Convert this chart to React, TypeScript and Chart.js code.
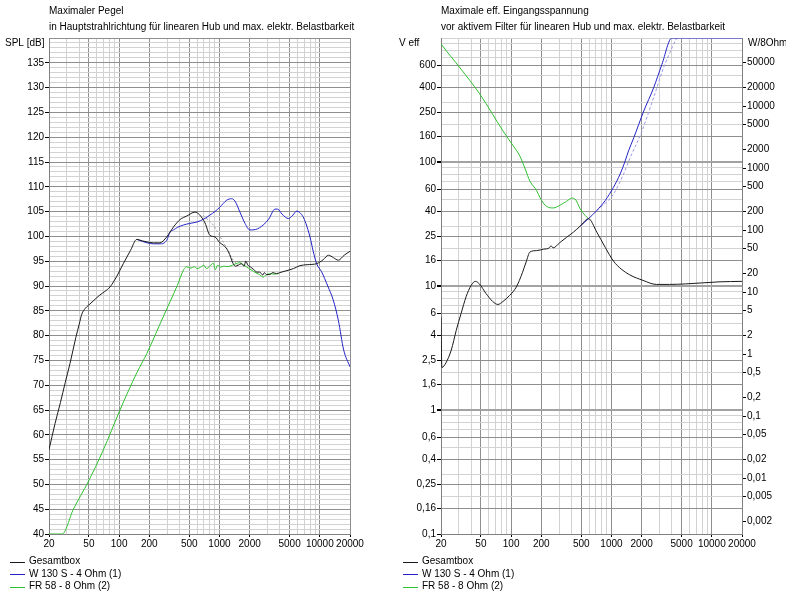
import React, { useEffect, useRef } from 'react';
import { Chart, registerables } from 'chart.js';

Chart.register(...registerables);

// ---------------- Left panel: Maximaler Pegel (SPL dB) ----------------
const splTotalFreq = [20, 23, 26, 29, 32.4, 37, 40, 42.4, 46, 49.4, 56, 64.4, 72, 81, 95, 110, 130, 150, 170, 189, 220, 255, 298, 348, 405, 471, 571, 630, 718, 804, 903, 1000, 1100, 1230, 1370, 1450, 1540, 1650, 1760, 1830, 1920, 2050, 2200, 2360, 2520, 2700, 2800, 2950, 3170, 3400, 3700, 4000, 4500, 5450, 6340, 7500, 9300, 10800, 12200, 13700, 15300, 17500, 20000];
const splTotalDb = [57, 62.3, 66.5, 70.5, 74.4, 79.6, 82.3, 84.3, 85.5, 86.1, 87.1, 88.2, 88.9, 89.8, 92, 94.5, 97.2, 99.4, 99.1, 98.9, 98.7, 98.7, 99.9, 101.9, 103.4, 104.1, 104.9, 104.4, 102.7, 100.2, 99.9, 98.8, 98.2, 96.9, 94.5, 94.0, 94.2, 94.5, 94.0, 95.0, 94.2, 93.8, 93.3, 92.8, 92.8, 92.2, 92.7, 92.3, 92.3, 92.7, 92.5, 92.7, 93.0, 93.5, 94.1, 94.3, 94.5, 95.3, 96.2, 95.7, 95.2, 96.2, 97.0];

const splWooferFreq = [150, 170, 190, 220, 255, 298, 322, 348, 380, 438, 500, 596, 700, 804, 900, 1010, 1180, 1320, 1430, 1600, 1800, 2010, 2300, 2730, 3100, 3580, 3800, 4200, 4870, 5400, 5880, 6300, 6800, 7270, 7980, 8600, 9300, 10400, 12000, 13600, 15300, 17300, 20000];
const splWooferDb = [99.4, 99.0, 98.7, 98.5, 98.5, 99.2, 100.9, 101.3, 101.8, 102.3, 102.6, 102.9, 103.5, 104.3, 105.0, 105.9, 107.3, 107.6, 107.1, 104.9, 102.6, 101.3, 101.4, 102.3, 103.5, 105.5, 105.5, 104.5, 103.6, 104.3, 105.1, 104.8, 104.0, 102.6, 99.9, 97.0, 94.5, 92.9, 90.0, 87.2, 83.1, 77.1, 73.7];

const splFullrangeFreq = [20, 27, 35, 49.4, 69.4, 102, 150, 189, 250, 321, 380, 440, 470, 520, 560, 600, 650, 700, 740, 800, 870, 910, 960, 1020, 1100, 1200, 1350, 1500, 1600, 1750, 1950, 2200, 2500, 2730, 2900, 3200, 3500, 3900];
const splFullrangeDb = [40, 40, 45, 50.6, 56.9, 65, 72.5, 76.4, 81.9, 86.8, 90.1, 93.3, 93.9, 93.6, 93.9, 93.5, 93.8, 94.2, 93.5, 94.0, 94.6, 93.3, 94.2, 93.8, 94.0, 93.9, 94.2, 94.6, 94.7, 94.2, 93.6, 92.9, 92.3, 91.8, 92.2, 92.5, 92.4, 92.5];

const splRefFreq = [690, 866, 1000, 1180, 1330, 1530];
const splRefDb = [104.2, 102.3, 100.2, 97.6, 95.6, 94.2];

// ---------------- Right panel: Maximale eff. Eingangsspannung (V) ----------------
const voltTotalFreq = [20, 20.4, 22.4, 25.3, 28.4, 31.7, 35.6, 39.9, 44, 48.2, 56.2, 65.5, 73.8, 82.9, 96.7, 112.5, 130, 141, 154, 180, 210, 240, 250, 262, 306, 357, 418, 488, 590, 714, 866, 1046, 1250, 1520, 2060, 2800, 3800, 5500, 8100, 11800, 20000];
const voltTotalV = [5.6, 2.2, 2.4, 3.04, 4.4, 6.0, 8.2, 10.1, 10.9, 10.4, 8.7, 7.5, 7.1, 7.5, 8.4, 9.8, 12.9, 15.6, 18.8, 19.3, 19.8, 20.3, 21.1, 20.3, 22.4, 24.7, 27.2, 30.4, 34.9, 27.2, 20.5, 15.9, 13.7, 12.3, 11.1, 10.3, 10.3, 10.4, 10.6, 10.8, 10.9];

const voltWooferFreq = [488, 590, 714, 866, 1046, 1220, 1370, 1480, 1670, 2100, 2630, 3180, 4000, 20000];
const voltWooferV = [30.4, 34.9, 40.6, 48.9, 62.4, 80, 102, 123, 157, 258, 396, 611, 1000, 1000];

const voltFullrangeFreq = [20, 20.3, 31, 49, 83, 105, 122, 138, 154, 180, 194, 227, 264, 306, 357, 403, 434, 488, 546, 590];
const voltFullrangeV = [900, 884, 573, 351, 178, 135, 112, 88, 70, 58.7, 51.5, 43.7, 42.6, 44.8, 48.2, 51.2, 50.3, 41.9, 37.1, 34.9];

const voltRefFreq = [714, 866, 1046, 1320, 1540, 1960, 2630, 3300, 4150, 4490];
const voltRefV = [40.6, 46.5, 55, 80, 109, 168, 330, 573, 884, 1000];

// ---------------- Axes ----------------
const freqLabels = [20, 50, 100, 200, 500, 1000, 2000, 5000, 10000, 20000];
const voltLabels = [0.1, 0.16, 0.25, 0.4, 0.6, 1, 1.6, 2.5, 4, 6, 10, 16, 25, 40, 60, 100, 160, 250, 400, 600];
const wattLabels = [0.002, 0.005, 0.01, 0.02, 0.05, 0.1, 0.2, 0.5, 1, 2, 5, 10, 20, 50, 100, 200, 500, 1000, 2000, 5000, 10000, 20000, 50000];
const legendLabels = ['Gesamtbox', 'W 130 S - 4 Ohm (1)', 'FR 58 - 8 Ohm (2)'];
const titleLeft = ['Maximaler Pegel', 'in Hauptstrahlrichtung für linearen Hub und max. elektr. Belastbarkeit'];
const titleRight = ['Maximale eff. Eingangsspannung', 'vor aktivem Filter für linearen Hub und max. elektr. Belastbarkeit'];

const FONT = '"Liberation Sans", Arial, sans-serif';
const MAJOR = '#8e8e8e';
const DECADE = '#a2a2a2';
const MINOR = '#d2d2d2';
const C_TOTAL = '#1a1a1a';
const C_WOOFER = '#2323c8';
const C_FULL = '#2ec02e';

const r6 = (v: number) => Number(v.toPrecision(6));
const near = (list: number[], v: number) => list.some((a) => Math.abs(a - v) / a < 1e-6);
const de = (v: number) => String(r6(v)).replace('.', ',');
const zip = (xs: number[], ys: number[]) => xs.map((x, i) => ({ x, y: ys[i] }));

const freqGrid: number[] = [];
[10, 100, 1000, 10000].forEach((d) => {
  for (let m = 1; m <= 9; m++) {
    const v = m * d;
    if (v >= 20 && v <= 20000) freqGrid.push(v);
  }
});
const freqMajor = [20, 50, 100, 200, 500, 1000, 2000, 5000, 10000, 20000];

const splGrid: number[] = [];
for (let v = 40; v <= 140; v++) splGrid.push(v);

const voltGrid: number[] = [];
[0.1, 1, 10, 100].forEach((d) => {
  [1, 1.6, 2, 2.5, 3, 4, 5, 6, 7, 8, 9].forEach((m) => voltGrid.push(r6(m * d)));
});
voltGrid.push(1000);

const textPlugin = {
  id: 'panelText',
  afterDraw(chart: any, _args: any, opts: any) {
    const { ctx, chartArea } = chart;
    ctx.save();
    ctx.fillStyle = '#000';
    ctx.font = `10px ${FONT}`;
    ctx.textBaseline = 'middle';
    ctx.textAlign = 'left';
    (opts.title as string[]).forEach((t, i) => ctx.fillText(t, chartArea.left, 11 + i * 16));
    ctx.fillText(opts.unitLeft, opts.unitLeftX, 43);
    if (opts.unitRight) ctx.fillText(opts.unitRight, chartArea.right + 6, 43);
    legendLabels.forEach((label, i) => {
      const y = 561.5 + i * 12.5;
      ctx.strokeStyle = chart.data.datasets[i].borderColor;
      ctx.lineWidth = 1;
      ctx.beginPath();
      ctx.moveTo(opts.legendX, Math.round(y) + 0.5);
      ctx.lineTo(opts.legendX + 15, Math.round(y) + 0.5);
      ctx.stroke();
      ctx.fillText(label, opts.legendX + 19, y);
    });
    ctx.restore();
  },
};

function freqAxis() {
  return {
    type: 'logarithmic',
    min: 20,
    max: 20000,
    afterBuildTicks: (s: any) => {
      s.ticks = freqGrid.map((v) => ({ value: v }));
    },
    afterFit: (s: any) => {
      s.height = 60;
    },
    ticks: {
      autoSkip: false,
      maxRotation: 0,
      padding: 1,
      color: '#000',
      font: { family: FONT, size: 10 },
      callback: (v: any) => (near(freqLabels, Number(v)) ? String(v) : ''),
    },
    grid: {
      color: (c: any) => (near(freqMajor, c.tick.value) ? MAJOR : MINOR),
      tickLength: 3,
      tickColor: (c: any) => (near(freqLabels, c.tick.value) ? '#000' : 'rgba(0,0,0,0)'),
    },
    border: { color: '#808080' },
  };
}

function lineDs(label: string, data: any[], color: string, dash: number[] = [], yAxisID = 'y') {
  return {
    label,
    data,
    borderColor: color,
    backgroundColor: color,
    borderWidth: 1,
    borderDash: dash,
    pointRadius: 0,
    tension: 0.25,
    cubicInterpolationMode: 'monotone',
    fill: false,
    yAxisID,
  };
}

function LeftChart() {
  const ref = useRef<HTMLCanvasElement>(null);
  useEffect(() => {
    const chart = new Chart(ref.current as HTMLCanvasElement, {
      type: 'line',
      data: {
        datasets: [
          lineDs(legendLabels[0], zip(splTotalFreq, splTotalDb), C_TOTAL),
          lineDs(legendLabels[1], zip(splWooferFreq, splWooferDb), C_WOOFER),
          lineDs(legendLabels[2], zip(splFullrangeFreq, splFullrangeDb), C_FULL),
          lineDs('ref', zip(splRefFreq, splRefDb), '#9a9a9a', [2, 2]),
        ] as any,
      },
      options: {
        animation: false,
        responsive: false,
        devicePixelRatio: 1,
        layout: { padding: { left: 0, right: 43, top: 38, bottom: 0 } },
        plugins: {
          legend: { display: false },
          tooltip: { enabled: false },
          panelText: { title: titleLeft, unitLeft: 'SPL [dB]', unitLeftX: 5, legendX: 10 },
        } as any,
        scales: {
          x: freqAxis() as any,
          y: {
            type: 'linear',
            min: 40,
            max: 140,
            afterBuildTicks: (s: any) => {
              s.ticks = splGrid.map((v) => ({ value: v }));
            },
            afterFit: (s: any) => {
              s.width = 49;
            },
            ticks: {
              autoSkip: false,
              padding: 1,
              color: '#000',
              font: { family: FONT, size: 10 },
              callback: (v: any) => (Number(v) % 5 === 0 && Number(v) <= 135 ? String(v) : ''),
            },
            grid: {
              color: (c: any) => (c.tick.value % 5 === 0 ? MAJOR : MINOR),
              tickLength: 4,
              tickColor: (c: any) => (c.tick.value % 5 === 0 && c.tick.value <= 135 ? '#000' : 'rgba(0,0,0,0)'),
            },
            border: { color: '#808080' },
          } as any,
        },
      },
      plugins: [textPlugin as any],
    });
    return () => chart.destroy();
  }, []);
  return <canvas ref={ref} width={393} height={594} style={{ position: 'absolute', left: 0, top: 0 }} />;
}

function RightChart() {
  const ref = useRef<HTMLCanvasElement>(null);
  useEffect(() => {
    const chart = new Chart(ref.current as HTMLCanvasElement, {
      type: 'line',
      data: {
        datasets: [
          lineDs(legendLabels[0], zip(voltTotalFreq, voltTotalV), C_TOTAL),
          lineDs(legendLabels[1], zip(voltWooferFreq, voltWooferV), C_WOOFER),
          lineDs(legendLabels[2], zip(voltFullrangeFreq, voltFullrangeV), C_FULL),
          lineDs('ref', zip(voltRefFreq, voltRefV), '#9a9ae6', [3, 2]),
        ] as any,
      },
      options: {
        animation: false,
        responsive: false,
        devicePixelRatio: 1,
        layout: { padding: { left: 0, right: 0, top: 38, bottom: 0 } },
        plugins: {
          legend: { display: false },
          tooltip: { enabled: false },
          panelText: { title: titleRight, unitLeft: 'V eff', unitRight: 'W/8Ohm', unitLeftX: 6, legendX: 10 },
        } as any,
        scales: {
          x: freqAxis() as any,
          y: {
            type: 'logarithmic',
            position: 'left',
            min: 0.1,
            max: 1000,
            afterBuildTicks: (s: any) => {
              s.ticks = voltGrid.map((v) => ({ value: v }));
            },
            afterFit: (s: any) => {
              s.width = 48;
            },
            ticks: {
              autoSkip: false,
              padding: 1,
              color: '#000',
              font: { family: FONT, size: 10 },
              callback: (v: any) => (near(voltLabels, Number(v)) ? de(Number(v)) : ''),
            },
            grid: {
              color: (c: any) => {
                const v = c.tick.value;
                if (near([1, 10, 100], v)) return DECADE;
                return near(voltLabels, v) ? MAJOR : MINOR;
              },
              lineWidth: (c: any) => (near([1, 10, 100], c.tick.value) ? 2 : 1),
              tickLength: 4,
              tickColor: (c: any) => (near(voltLabels, c.tick.value) ? '#000' : 'rgba(0,0,0,0)'),
            },
            border: { color: '#808080' },
          } as any,
          y2: {
            type: 'logarithmic',
            position: 'right',
            min: 0.00125,
            max: 125000,
            afterBuildTicks: (s: any) => {
              s.ticks = wattLabels.map((v) => ({ value: v }));
            },
            afterFit: (s: any) => {
              s.width = 44;
            },
            ticks: {
              autoSkip: false,
              padding: 1,
              color: '#000',
              font: { family: FONT, size: 10 },
              callback: (v: any) => de(Number(v)),
            },
            grid: { drawOnChartArea: false, tickLength: 4, tickColor: '#000' },
            border: { color: '#808080' },
          } as any,
        },
      },
      plugins: [textPlugin as any],
    });
    return () => chart.destroy();
  }, []);
  return <canvas ref={ref} width={393} height={594} style={{ position: 'absolute', left: 393, top: 0 }} />;
}

export default function App() {
  return (
    <div style={{ position: 'absolute', left: 0, top: 0, width: 786, height: 594, background: '#fff', overflow: 'hidden' }}>
      <LeftChart />
      <RightChart />
    </div>
  );
}
